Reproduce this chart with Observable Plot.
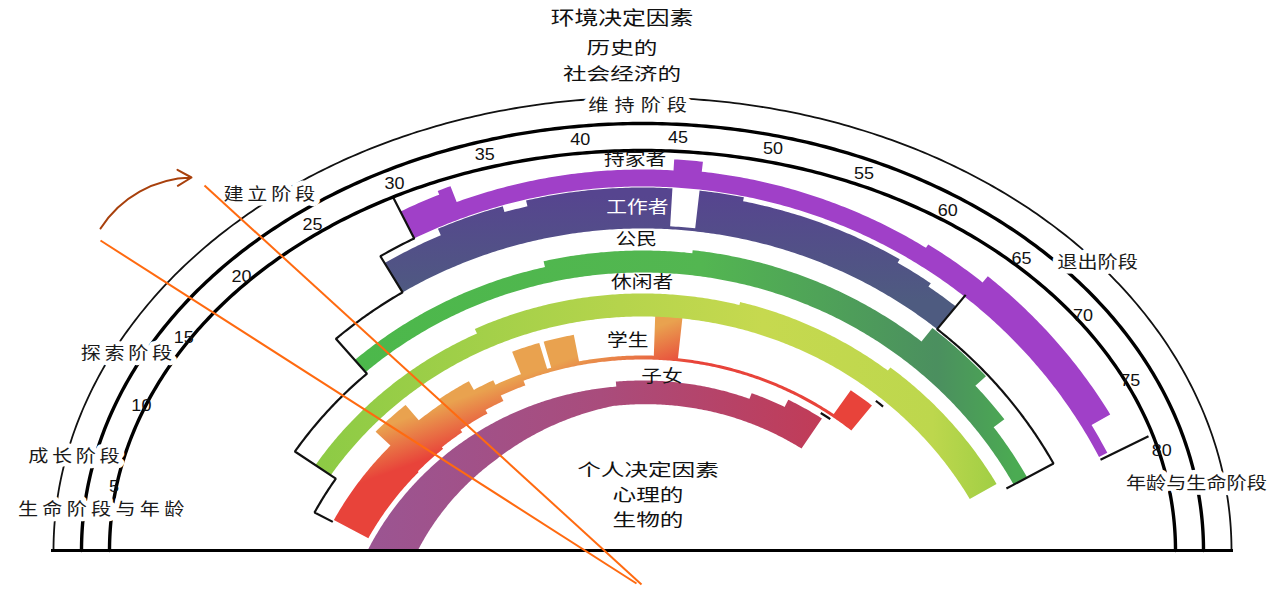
<!DOCTYPE html>
<html>
<head>
<meta charset="utf-8">
<script src="https://cdn.jsdelivr.net/npm/d3@7"></script>
<script src="https://cdn.jsdelivr.net/npm/@observablehq/plot@0.6"></script>
<style>
  html, body { margin: 0; padding: 0; background: #ffffff; }
  #chart svg { display: block; }
</style>
</head>
<body>
<div id="chart"></div>
<script>
// ================= DATA =================
const tickAges = [5, 10, 15, 20, 25, 30, 35, 40, 45, 50, 55, 60, 65, 70, 75, 80];

const stageNames = ["成长阶段", "探索阶段", "建立阶段", "维持阶段", "退出阶段"];
const stageAges  = [6.4, 12.9, 24.7, 43.1, 67.65];

const axisCaptions = ["生命阶段与年龄", "年龄与生命阶段"];
const captionAges  = [3.6, 82.3];

const roleNames     = ["持家者", "工作者", "公民", "休闲者", "学生", "子女"];
const roleLabelAges = [42.8, 42.9, 42.8, 43.2, 41.9, 45.2];

const topTitle    = "环境决定因素";
const topLines    = ["历史的", "社会经济的"];
const bottomLines = ["个人决定因素", "心理的", "生物的"];

// role bands: age breakpoints and band thickness of every step
const homemakerAges   = [28.5, 31.0, 31.8, 45.1, 46.8, 61.2, 65.2, 76.3, 78.3];
const homemakerWidths = [30, 34, 17, 28, 18, 22, 30, 9];
const workerAges   = [26.1, 30.1, 34.4, 35.9, 45.1, 46.8, 49.6, 60.2, 62.7, 64.9];
const workerWidths = [34, 41, 35, 41, 3, 41, 37, 33, 29];
const citizenAges   = [20.5, 36.1, 46.8, 64.6, 69.6, 72.8, 77.3];
const citizenWidths = [16, 22, 25, 42, 28, 15];
const leisureAges   = [12.3, 29.5, 51, 64, 76.6];
const leisureWidths = [18, 23, 26, 30];
const studentAges  = [9, 17.7, 21.2, 23.8, 27, 29, 31.6, 34.1, 34.5, 37.2, 44.3, 46.6, 62.5, 64.8];
const studentBelow = [21, 20, 18, 15, 11, 5, 0, 0, 0, 0, 0, 0, 0];
const studentAbove = [17, 37, 17, 22, 12, 7, 31, 4, 31, 4, 45, 3, 32];
const childAges        = [0, 40.5, 54.4, 58, 61.8];
const childOuterWidths = [45, 50, 56, 64];          // outer edge above the band's base
const childInnerAges   = [0, 10, 25, 40, 61.8];
const childInnerRise   = [0, 2, 12, 26, 28];        // inner edge rise above the base

// life-span outline: role start ages (outer to inner) and end ages
const outlineStartAges = [28.5, 26.1, 20.5, 12.3, 8.8];
const homeEndAge = 78.5, workEndAge = 64.9, citizenEndAge = 77.3;
const studentOutlineAges = [[61.4, 62.5], [64.8, 65.6]];

// ================= LAYOUT =================
const W = 1281, H = 589;
// band geometry (concentric arcs whose centre lies below the base line)
const SX = 1.0335, DROP = 132;
const bandTheta = a => (167.6 - 1.795 * a) * Math.PI / 180;
const bandPt = (a, r) => ({
  x: SX * r * Math.cos(bandTheta(a)),
  y: Math.max(0, r * Math.sin(bandTheta(a)) - DROP)
});
const homeInner = 496, workInner = 454, citizenInner = 410, leisureInner = 366, studentBase = 323, childInner = 252;
const slotTop = 532;
// frame geometry (the three age arcs); age -> angle in degrees
const frameAngle = d3.scaleLinear().domain([0, 10, 45, 80]).range([182.7, 159.5, 86.2, 13.9]);
const frameTheta = a => frameAngle(a) * Math.PI / 180;
const rings = {
  outer:  {A: 589, B: 453},
  middle: {A: 561, B: 427},
  inner:  {A: 533, B: 400},
  ticks:  {A: 535, B: 414},
  stage2: {A: 575, B: 440}
};
const framePt = (a, ring) => ({x: ring.A * Math.cos(frameTheta(a)), y: ring.B * Math.sin(frameTheta(a))});
const stageRings   = ["outer", "stage2", "outer", "outer", "outer"];
const stageOffsets = [[9, 2], [0, 0], [-3, -2], [0, 8], [0, 0]];

function sampleArc(a0, a1, f) {
  const n = Math.max(2, Math.ceil(Math.abs(a1 - a0) / 0.2));
  for (let k = 0; k <= n; k++) f(a0 + (a1 - a0) * k / n);
}
// generic band polygon: inner(i, a) / outer(i, a) give radii on segment i at age a
function bandPolygon(ages, inner, outer) {
  const pts = [];
  const nSeg = ages.length - 1;
  for (let i = 0; i < nSeg; i++) sampleArc(ages[i], ages[i + 1], a => pts.push(bandPt(a, outer(i, a))));
  for (let i = nSeg - 1; i >= 0; i--) sampleArc(ages[i + 1], ages[i], a => pts.push(bandPt(a, inner(i, a))));
  return pts;
}
const simpleBand = (ages, widths, base) => bandPolygon(ages, () => base, i => base + widths[i]);
const widthAt = (ages, widths, a) => { for (let i = 0; i < widths.length; i++) if (a >= ages[i] && a < ages[i + 1]) return widths[i]; return 0; };
const childInnerAt = a => childInner + d3.scaleLinear().domain(childInnerAges).range(childInnerRise).clamp(true)(a);

const homePts    = simpleBand(homemakerAges, homemakerWidths, homeInner);
const workPts    = simpleBand(workerAges, workerWidths, workInner);
const citizenPts = simpleBand(citizenAges, citizenWidths, citizenInner);
const leisurePts = simpleBand(leisureAges, leisureWidths, leisureInner);
const studentPts = bandPolygon(studentAges, i => studentBase - studentBelow[i], i => studentBase + studentAbove[i]);
const childPts   = bandPolygon(childAges, (i, a) => childInnerAt(a), i => childInner + childOuterWidths[i]);

// outline
const outlinePts = [];
function addSeg(id, list) { list.forEach(p => outlinePts.push({seg: id, x: p.x, y: p.y})); }
{
  const radii = [slotTop + 11, homeInner, workInner, citizenInner - 2, leisureInner - 6, studentBase + 17];
  const list = [bandPt(outlineStartAges[0], radii[0])];
  for (let i = 0; i < outlineStartAges.length; i++) {
    list.push(bandPt(outlineStartAges[i], radii[i + 1]));
    if (i < outlineStartAges.length - 1) sampleArc(outlineStartAges[i], outlineStartAges[i + 1], a => list.push(bandPt(a, radii[i + 1])));
  }
  addSeg("left", list);
  addSeg("homeEnd", [bandPt(homeEndAge, homeInner), bandPt(homeEndAge, slotTop + 16)]);
  const w = [bandPt(workEndAge, homeInner + 2), bandPt(workEndAge, workInner)];
  sampleArc(workEndAge, citizenEndAge, a => w.push(bandPt(a, workInner)));
  w.push(bandPt(citizenEndAge, citizenInner - 8));
  addSeg("workEnd", w);
  const s1 = []; sampleArc(studentOutlineAges[0][0], studentOutlineAges[0][1], a => s1.push(bandPt(a, studentBase - 3)));
  const s2 = []; sampleArc(studentOutlineAges[1][0], studentOutlineAges[1][1], a => s2.push(bandPt(a, studentBase + 38)));
  addSeg("stu1", s1); addSeg("stu2", s2);
}

// frame arcs
function ringPts(ring) {
  const pts = [];
  for (let d = 0; d <= 180; d += 0.5) { const t = d * Math.PI / 180; pts.push({x: ring.A * Math.cos(t), y: ring.B * Math.sin(t)}); }
  return pts;
}

// role labels sit in the gap above each band (or inside it for the worker)
const roleLabelR = [
  (homeInner + widthAt(homemakerAges, homemakerWidths, roleLabelAges[0]) + slotTop) / 2,
  workInner + widthAt(workerAges, workerWidths, roleLabelAges[1]) / 2,
  (citizenInner + widthAt(citizenAges, citizenWidths, roleLabelAges[2]) + workInner) / 2,
  (leisureInner + widthAt(leisureAges, leisureWidths, roleLabelAges[3]) + citizenInner) / 2,
  (studentBase + widthAt(studentAges, studentAbove, roleLabelAges[4]) + leisureInner) / 2 - 4,
  (childInner + widthAt(childAges, childOuterWidths, roleLabelAges[5]) + studentBase) / 2 - 6
];
const roleLabels = roleNames.map((name, i) => ({name, ...bandPt(roleLabelAges[i], roleLabelR[i])}));
const stageLabels = stageNames.map((name, i) => ({name, ...framePt(stageAges[i], rings[stageRings[i]])}));
const captionLabels = axisCaptions.map((name, i) => ({name, ...framePt(captionAges[i], rings.middle)}));

// hand-drawn annotation strokes on the picture (data units: px from base-line centre)
const annotLines = [
  {x1: -542, y1: 310, x2: -6, y2: -33},
  {x1: -438, y1: 365, x2: -1, y2: -34}
];
const annotArrow = [{x1: -542, y1: 322, x2: -451, y2: 373}];

const CJK = "'Noto Sans CJK SC', 'Noto Sans', sans-serif";
const halo = {stroke: "#fff", strokeWidth: 9, paintOrder: "stroke", strokeLinejoin: "round"};

const svg = Plot.plot({
  width: W, height: H, margin: 0,
  x: {domain: [-642, 639], range: [0, W], axis: null},
  y: {domain: [-39, 550], range: [H, 0], axis: null},
  style: {background: "#ffffff", fontFamily: CJK, overflow: "visible"},
  marks: [
    Plot.line(childPts,   {x: "x", y: "y", fill: "url(#gChild)", stroke: "none", curve: "linear-closed"}),
    Plot.line(studentPts, {x: "x", y: "y", fill: "url(#gStudent)", stroke: "none", curve: "linear-closed"}),
    Plot.line(leisurePts, {x: "x", y: "y", fill: "url(#gLeisure)", stroke: "none", curve: "linear-closed"}),
    Plot.line(citizenPts, {x: "x", y: "y", fill: "url(#gCitizen)", stroke: "none", curve: "linear-closed"}),
    Plot.line(workPts,    {x: "x", y: "y", fill: "url(#gWork)", stroke: "none", curve: "linear-closed"}),
    Plot.line(homePts,    {x: "x", y: "y", fill: "#a040c8", stroke: "none", curve: "linear-closed"}),
    Plot.line(outlinePts, {x: "x", y: "y", z: "seg", stroke: "#111", strokeWidth: 2.2, strokeLinejoin: "miter", strokeLinecap: "butt"}),
    Plot.line(ringPts(rings.outer),  {x: "x", y: "y", stroke: "#111", strokeWidth: 1.8}),
    Plot.line(ringPts(rings.middle), {x: "x", y: "y", stroke: "#000", strokeWidth: 3.4}),
    Plot.line(ringPts(rings.inner),  {x: "x", y: "y", stroke: "#000", strokeWidth: 3.4}),
    Plot.ruleY([0], {x1: -(rings.outer.A + 2), x2: rings.outer.A + 2, stroke: "#000", strokeWidth: 3}),
    Plot.text(tickAges, {
      x: a => framePt(a, rings.ticks).x, y: a => framePt(a, rings.ticks).y, text: a => `${a}`,
      fontSize: 17, fontFamily: "'Liberation Sans', Arial, sans-serif", fill: "#111"
    }),
    ...stageLabels.map((d, i) => Plot.text([d], {x: "x", y: "y", text: "name", fontSize: 16.5, fill: "#1a1a1a",
      dx: stageOffsets[i][0], dy: stageOffsets[i][1], ...halo})),
    Plot.text(captionLabels.slice(0, 1), {x: "x", y: "y", text: "name", fontSize: 16.5, fill: "#1a1a1a", dx: 19, dy: 1, ...halo}),
    Plot.text(captionLabels.slice(1), {x: "x", y: "y", text: "name", fontSize: 16.5, fill: "#1a1a1a", dy: 1, ...halo}),
    Plot.text(roleLabels.filter(d => d.name !== "工作者"), {x: "x", y: "y", text: "name", fontSize: 17, fill: "#111"}),
    Plot.text(roleLabels.filter(d => d.name === "工作者"), {x: "x", y: "y", text: "name", fontSize: 17, fill: "#ffffff"}),
    Plot.text([topTitle], {frameAnchor: "top", dx: -19, dy: 18, text: d => d, fontSize: 19.5, fill: "#111", lineAnchor: "middle"}),
    ...topLines.map((t, i) => Plot.text([t], {frameAnchor: "top", dx: -19, dy: [48.5, 74][i], text: d => d, fontSize: 17, fill: "#111", lineAnchor: "middle"})),
    ...bottomLines.map((t, i) => Plot.text([t], {frameAnchor: "bottom", dx: 7, dy: [-119, -94, -69][i], text: d => d, fontSize: 17, fill: "#111", lineAnchor: "middle"})),
    Plot.link(annotLines, {x1: "x1", y1: "y1", x2: "x2", y2: "y2", stroke: "#ff6a10", strokeWidth: 2}),
    Plot.arrow(annotArrow, {x1: "x1", y1: "y1", x2: "x2", y2: "y2", bend: 28, stroke: "#a8400c", strokeWidth: 2, headLength: 12})
  ]
});

// gradients
const defs = d3.select(svg).insert("defs", ":first-child");
function lin(id, x1, y1, x2, y2, stops) {
  const g = defs.append("linearGradient").attr("id", id).attr("gradientUnits", "userSpaceOnUse")
    .attr("x1", x1).attr("y1", y1).attr("x2", x2).attr("y2", y2);
  stops.forEach(([o, c]) => g.append("stop").attr("offset", o).attr("stop-color", c));
}
lin("gWork", 0, 195, 0, 300, [[0, "#56458f"], [1, "#4e5b80"]]);
lin("gCitizen", 360, 0, 1015, 0, [[0, "#4cb84b"], [0.52, "#53b651"], [0.88, "#4b8f5f"], [1, "#4bab52"]]);
lin("gLeisure", 320, 0, 1000, 0, [[0, "#8dcb45"], [0.44, "#b5d44c"], [0.65, "#c6d94f"], [0.9, "#bdd74d"], [1, "#9fce44"]]);
lin("gStudent", 185.5, 498, 201, 540.5, [[0, "#e9a24f"], [1, "#e8433a"]]);
lin("gChild", 370, 0, 830, 0, [[0, "#9b5592"], [0.5, "#a94c7c"], [1, "#c23b56"]]);

// glyphs in the picture are drawn wider than tall; stage names are letter-spaced
const spacing = {"维持阶段": 5, "建立阶段": 3, "探索阶段": 3, "成长阶段": 3, "生命阶段与年龄": 3.5};
const wide = new Set([...topLines, ...bottomLines]);
d3.select(svg).selectAll("text").each(function () {
  const txt = this.textContent;
  const isCJK = /[\u4e00-\u9fff]/.test(txt);
  const sx = wide.has(txt) ? 1.39 : isCJK ? 1.22 : 1.06;
  if (spacing[txt]) this.style.letterSpacing = spacing[txt] + "px";
  let tr = this.getAttribute("transform") || "";
  const x = this.getAttribute("x");
  if (x !== null && /^-?[\d.]+$/.test(x.trim()) && +x !== 0) {
    tr += ` translate(${x},0)`;
    this.setAttribute("x", "0");
  }
  this.setAttribute("transform", `${tr} scale(${sx},1)`.trim());
});

document.getElementById("chart").appendChild(svg);
</script>
</body>
</html>
